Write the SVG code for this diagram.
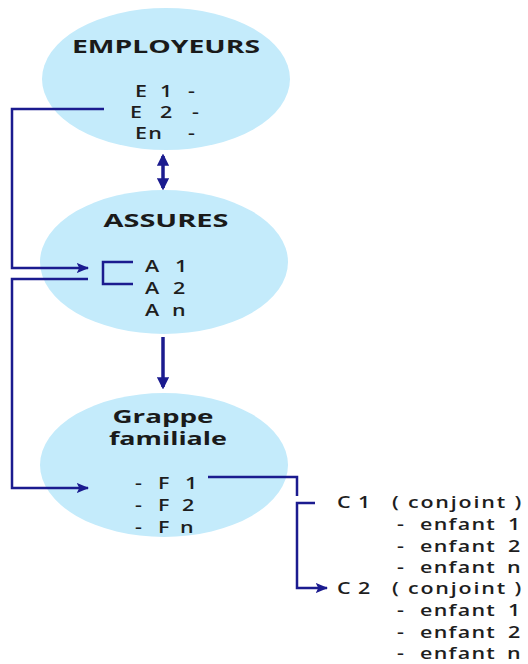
<svg xmlns="http://www.w3.org/2000/svg" width="528" height="664" viewBox="0 0 528 664">
<style>
.node{fill:#c4ebfb}
.h{font-family:"Open Sans","Liberation Sans",sans-serif;font-weight:bold;font-size:18px;fill:#1a1a1a;text-anchor:middle}
.t{font-family:"Open Sans","Liberation Sans",sans-serif;font-weight:600;font-size:16.5px;fill:#1e1e1e}
.w{letter-spacing:1px}
.cj{letter-spacing:1.4px}
.c{fill:none;stroke:#1b1b8f;stroke-width:2.5}
.v{fill:none;stroke:#1b1b8f;stroke-width:3.5}
</style>
<defs>
<marker id="ah" viewBox="0 0 10 10" refX="9" refY="5" markerWidth="5" markerHeight="5" orient="auto-start-reverse" markerUnits="strokeWidth">
<path d="M0,1 L10,5 L0,9 L2,5 Z" fill="#1b1b8f"/>
</marker>
<marker id="ah2" viewBox="0 0 10 10" refX="8" refY="5" markerWidth="3.5" markerHeight="3.5" orient="auto-start-reverse" markerUnits="strokeWidth">
<path d="M0,0 L10,5 L0,10 Z" fill="#1b1b8f"/>
</marker>
</defs>
<g id="employeurs">
<ellipse class="node" cx="166" cy="79" rx="124" ry="71"/>
<g transform="scale(1.3 1)">
<text class="h" x="127.7" y="53" textLength="144.6" lengthAdjust="spacingAndGlyphs">EMPLOYEURS</text>
<text class="t" y="97"><tspan x="103.8">E </tspan><tspan x="123.1">1 </tspan><tspan x="144.6">-</tspan></text>
<text class="t" y="118"><tspan x="100">E </tspan><tspan x="123.1">2 </tspan><tspan x="147.7">-</tspan></text>
<text class="t" y="139"><tspan x="103.8" class="w">En </tspan><tspan x="144.6">-</tspan></text>
</g>
</g>
<g id="assures">
<ellipse class="node" cx="164" cy="262" rx="124" ry="72"/>
<g transform="scale(1.3 1)">
<text class="h" x="127.7" y="227" textLength="96.2" lengthAdjust="spacingAndGlyphs">ASSURES</text>
<text class="t" y="272"><tspan x="111.5">A </tspan><tspan x="134.6">1</tspan></text>
<text class="t" y="294"><tspan x="111.5">A </tspan><tspan x="133.1">2</tspan></text>
<text class="t" y="316"><tspan x="111.5">A </tspan><tspan x="132.3">n</tspan></text>
</g>
</g>
<g id="grappe">
<ellipse class="node" cx="164" cy="465" rx="124" ry="72"/>
<g transform="scale(1.3 1)">
<text class="h" x="125.4" y="423" textLength="77.7" lengthAdjust="spacingAndGlyphs">Grappe</text>
<text class="h" x="129.2" y="445" textLength="90.8" lengthAdjust="spacingAndGlyphs">familiale</text>
<text class="t" y="489"><tspan x="103.8">- </tspan><tspan x="121.5">F </tspan><tspan x="142.3">1</tspan></text>
<text class="t" y="511"><tspan x="103.8">- </tspan><tspan x="121.5">F </tspan><tspan x="140">2</tspan></text>
<text class="t" y="533"><tspan x="103.8">- </tspan><tspan x="121.5">F </tspan><tspan x="138.5">n</tspan></text>
</g>
</g>
<g id="familles">
<g transform="scale(1.3 1)">
<text class="t" y="508"><tspan x="259.2">C </tspan><tspan x="275.4">1 </tspan><tspan x="301.5" class="cj">( conjoint )</tspan></text>
<text class="t" y="530"><tspan x="305.4">- </tspan><tspan x="323.1" class="w">enfant </tspan><tspan x="390.8">1</tspan></text>
<text class="t" y="552"><tspan x="305.4">- </tspan><tspan x="323.1" class="w">enfant </tspan><tspan x="390.8">2</tspan></text>
<text class="t" y="573"><tspan x="305.4">- </tspan><tspan x="323.1" class="w">enfant </tspan><tspan x="390">n</tspan></text>
<text class="t" y="594"><tspan x="259.2">C </tspan><tspan x="275.4">2 </tspan><tspan x="301.5" class="cj">( conjoint )</tspan></text>
<text class="t" y="616"><tspan x="305.4">- </tspan><tspan x="323.1" class="w">enfant </tspan><tspan x="390.8">1</tspan></text>
<text class="t" y="638"><tspan x="305.4">- </tspan><tspan x="323.1" class="w">enfant </tspan><tspan x="390.8">2</tspan></text>
<text class="t" y="659"><tspan x="305.4">- </tspan><tspan x="323.1" class="w">enfant </tspan><tspan x="390">n</tspan></text>
</g>
</g>
<g id="connectors">
<line class="v" x1="163" y1="156" x2="163" y2="188" marker-start="url(#ah2)" marker-end="url(#ah2)"/>
<line class="v" x1="163" y1="337" x2="163" y2="387" marker-end="url(#ah2)"/>
<polyline class="c" points="104,109 12,109 12,268 88,268" marker-end="url(#ah)"/>
<polyline class="c" points="88,279 12,279 12,488 88,488" marker-end="url(#ah)"/>
<polyline class="c" points="133,262 103,262 103,284 133,284"/>
<polyline class="c" points="208,477 297,477 297,496"/>
<polyline class="c" points="315,503 297,503 297,588 327,588" marker-end="url(#ah)"/>
</g>
</svg>
